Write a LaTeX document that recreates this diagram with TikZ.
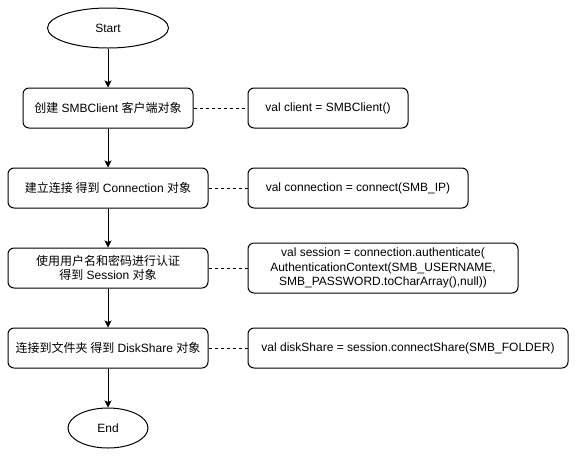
\documentclass[tikz,border=0pt]{standalone}
\usepackage{fontspec}
\setmainfont{Liberation Sans}
\newfontfamily\cjk{Noto Sans CJK SC}
\usetikzlibrary{arrows.meta,shapes.geometric}
\begin{document}
\begin{tikzpicture}[x=1pt,y=-1pt,line width=1pt,
  font=\fontsize{12}{14.5}\selectfont,
  term/.style={draw,ellipse,inner sep=0pt,minimum width=#1,minimum height=40pt},
  proc/.style={draw,rounded corners=6pt,inner sep=0pt,minimum width=#1,minimum height=40pt,align=center},
  flow/.style={-{Stealth[length=7pt,width=7pt,inset=1.5pt]}},
  link/.style={dash pattern=on 3pt off 3pt}]
\useasboundingbox (0,0) rectangle (578,459);
\node[term=121pt] (start) at (108,28) {Start};
\node[proc=170pt] (p1) at (108,108) {{\cjk 创建} SMBClient {\cjk 客户端对象}};
\node[proc=200pt] (p2) at (108,188) {{\cjk 建立连接 得到} Connection {\cjk 对象}};
\node[proc=200pt] (p3) at (108,268) {{\cjk 使用用户名和密码进行认证}\\{\cjk 得到} Session {\cjk 对象}};
\node[proc=200pt] (p4) at (108,348) {{\cjk 连接到文件夹 得到} DiskShare {\cjk 对象}};
\node[term=80pt] (end) at (108,428) {End};
\node[proc=160pt] (c1) at (328,108) {val client = SMBClient()};
\node[proc=220pt] (c2) at (358,188) {val connection = connect(SMB\_IP)};
\node[proc=270pt,minimum height=50pt] (c3) at (383,268) {val session = connection.authenticate(\\AuthenticationContext(SMB\_USERNAME,\\SMB\_PASSWORD.toCharArray(),null))};
\node[proc=320pt] (c4) at (408,348) {val diskShare = session.connectShare(SMB\_FOLDER)};
\draw[flow] (start) -- (p1);
\draw[flow] (p1) -- (p2);
\draw[flow] (p2) -- (p3);
\draw[flow] (p3) -- (p4);
\draw[flow] (p4) -- (end);
\draw[link] (p1) -- (c1);
\draw[link] (p2) -- (c2);
\draw[link] (p3) -- (c3);
\draw[link] (p4) -- (c4);
\end{tikzpicture}
\end{document}
